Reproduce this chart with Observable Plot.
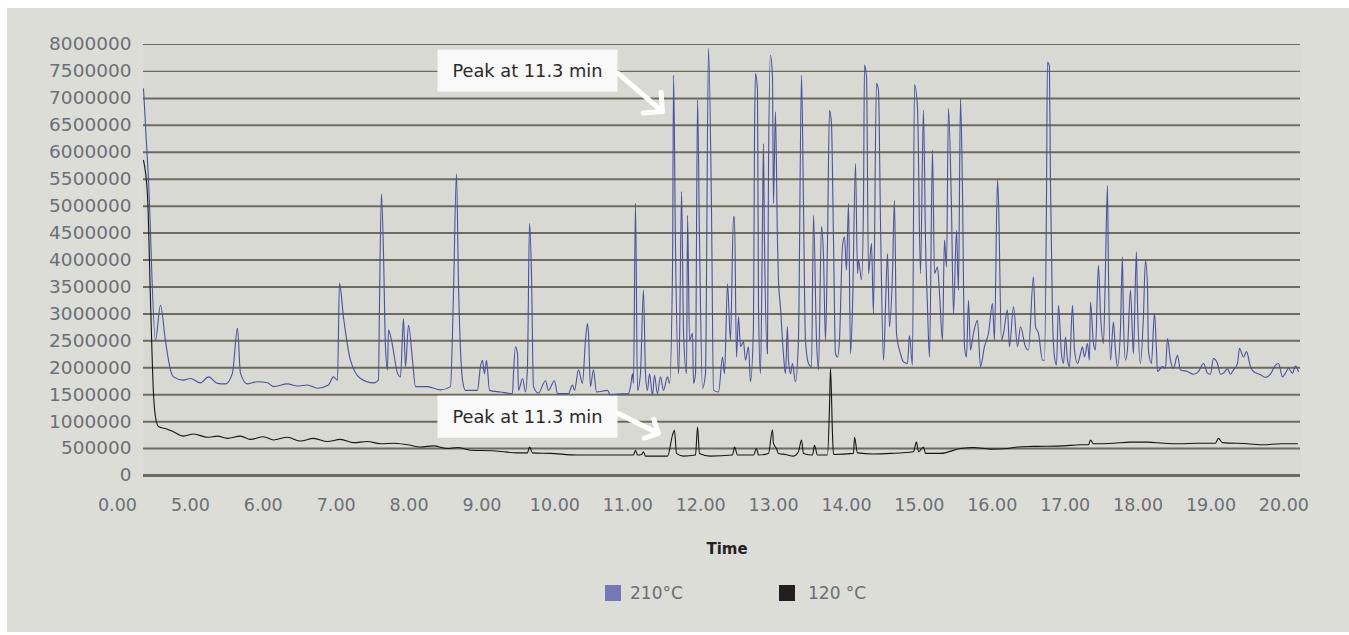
<!DOCTYPE html>
<html><head><meta charset="utf-8">
<script src="https://cdn.jsdelivr.net/npm/d3@7"></script>
<script src="https://cdn.jsdelivr.net/npm/@observablehq/plot@0.6"></script>
<style>
html,body{margin:0;padding:0;background:#fff;width:1349px;height:635px;overflow:hidden;font-family:"DejaVu Sans",sans-serif;}
#panel{position:absolute;left:7px;top:8px;width:1342px;height:624px;background:#dcddd6;}
#chart{position:absolute;left:0;top:0;}
#xlabel{position:absolute;top:539px;left:627px;width:200px;line-height:20px;text-align:center;font-weight:bold;font-size:15px;color:#222;}
.sw{position:absolute;width:16px;height:16px;top:585px;}
.lt{position:absolute;top:582px;line-height:22px;font-size:17px;color:#6c6d72;}
</style></head>
<body>
<div id="panel"></div>
<div id="chart"></div>
<div id="xlabel">Time</div>
<div id="legend"></div>
<script>
// x tick positions (time scale of the chart) and their printed labels
const xTicks = [4,5,6,7,8,9,10,11,12,13,14,15,16,17,18,19,20];
const xTickLabels = ["0.00","5.00","6.00","7.00","8.00","9.00","10.00","11.00","12.00","13.00","14.00","15.00","16.00","17.00","18.00","19.00","20.00"];
// y ticks in millions and their printed labels
const yTicks = [0,0.5,1,1.5,2,2.5,3,3.5,4,4.5,5,5.5,6,6.5,7,7.5,8];
const yTickLabels = ["0","500000","1000000","1500000","2000000","2500000","3000000","3500000","4000000","4500000","5000000","5500000","6000000","6500000","7000000","7500000","8000000"];

const seriesNames = ["210°C","120 °C"];
const seriesColors = ["#7478b8","#231f20"];

// [time, abundance in millions]
const trace210 = [[4.357,7.18],[4.425,5.50],[4.521,2.51],[4.590,3.16],[4.658,2.50],[4.727,1.96],[4.768,1.83],[4.905,1.77],[5.001,1.80],[5.139,1.72],[5.248,1.83],[5.372,1.71],[5.481,1.70],[5.577,1.90],[5.646,2.73],[5.687,1.90],[5.783,1.70],[5.920,1.74],[6.058,1.72],[6.140,1.65],[6.332,1.70],[6.469,1.66],[6.606,1.68],[6.743,1.62],[6.894,1.68],[6.963,1.83],[7.018,1.77],[7.045,3.57],[7.100,2.94],[7.196,2.14],[7.333,1.80],[7.512,1.72],[7.580,1.77],[7.594,3.19],[7.621,5.23],[7.649,4.12],[7.676,2.39],[7.704,1.96],[7.717,2.70],[7.759,2.51],[7.841,1.90],[7.882,1.83],[7.923,2.91],[7.951,2.02],[7.992,2.79],[8.047,2.14],[8.088,1.65],[8.252,1.65],[8.431,1.59],[8.568,1.65],[8.609,3.38],[8.650,5.60],[8.678,3.56],[8.733,1.77],[8.774,1.58],[8.938,1.58],[8.979,2.02],[9.007,2.14],[9.034,1.89],[9.062,2.14],[9.103,1.58],[9.254,1.55],[9.418,1.52],[9.432,1.89],[9.460,2.39],[9.487,2.27],[9.501,1.58],[9.556,1.80],[9.597,1.55],[9.624,2.02],[9.652,4.68],[9.679,3.75],[9.706,1.65],[9.775,1.53],[9.871,1.76],[9.912,1.58],[9.994,1.76],[10.036,1.52],[10.186,1.52],[10.241,1.68],[10.269,1.58],[10.324,1.96],[10.378,1.71],[10.420,2.51],[10.447,2.82],[10.461,2.64],[10.488,1.65],[10.529,1.96],[10.571,1.55],[10.722,1.58],[10.763,1.49],[10.859,1.51],[11.010,1.52],[11.037,1.65],[11.065,1.89],[11.078,1.71],[11.106,5.05],[11.133,1.58],[11.174,1.89],[11.215,3.44],[11.243,1.89],[11.270,1.58],[11.298,1.89],[11.339,1.49],[11.366,1.86],[11.407,1.52],[11.449,1.83],[11.490,1.58],[11.545,1.83],[11.573,1.71],[11.614,3.87],[11.628,7.43],[11.655,4.18],[11.696,1.89],[11.710,2.51],[11.738,5.27],[11.765,2.64],[11.806,1.89],[11.820,4.83],[11.847,2.51],[11.888,2.64],[11.902,1.71],[11.929,1.89],[11.957,6.97],[11.984,4.37],[12.025,1.62],[12.066,1.89],[12.107,7.93],[12.148,4.99],[12.176,1.58],[12.245,1.55],[12.300,2.20],[12.327,1.89],[12.368,3.56],[12.409,2.51],[12.450,4.80],[12.464,4.80],[12.491,2.20],[12.519,2.95],[12.546,2.39],[12.587,2.48],[12.615,2.14],[12.656,2.39],[12.683,1.74],[12.724,2.76],[12.738,6.22],[12.752,7.46],[12.779,7.15],[12.793,3.13],[12.820,1.89],[12.848,4.68],[12.861,6.16],[12.875,4.37],[12.916,2.26],[12.930,5.61],[12.957,7.80],[12.985,7.40],[12.998,5.05],[13.026,6.75],[13.053,4.37],[13.067,3.63],[13.094,3.13],[13.135,2.26],[13.163,1.89],[13.190,2.76],[13.204,2.14],[13.232,1.89],[13.259,2.08],[13.300,1.74],[13.341,2.51],[13.383,7.43],[13.410,5.05],[13.437,2.51],[13.479,2.08],[13.520,2.02],[13.548,4.83],[13.589,2.51],[13.616,1.96],[13.657,4.62],[13.685,4.06],[13.712,2.51],[13.740,4.37],[13.767,6.78],[13.794,6.53],[13.822,4.37],[13.849,2.26],[13.877,2.20],[13.904,2.51],[13.945,4.25],[13.973,4.43],[14.000,3.81],[14.028,5.05],[14.055,2.26],[14.083,3.13],[14.124,5.79],[14.151,3.75],[14.165,4.00],[14.206,3.63],[14.233,4.99],[14.247,7.62],[14.275,7.40],[14.302,3.75],[14.343,4.31],[14.370,3.01],[14.411,7.28],[14.439,7.15],[14.467,4.68],[14.508,2.14],[14.535,3.13],[14.563,4.12],[14.590,2.76],[14.631,3.75],[14.658,5.11],[14.686,2.64],[14.741,2.26],[14.782,2.11],[14.837,2.08],[14.864,2.60],[14.905,2.05],[14.933,7.25],[14.974,6.84],[15.015,3.75],[15.056,6.78],[15.084,4.37],[15.111,3.13],[15.139,2.20],[15.180,6.04],[15.207,3.75],[15.248,3.87],[15.276,3.38],[15.317,2.51],[15.344,4.37],[15.372,3.87],[15.399,6.81],[15.440,4.99],[15.468,3.01],[15.509,4.55],[15.536,3.44],[15.564,7.00],[15.591,5.30],[15.619,2.39],[15.646,2.20],[15.674,3.25],[15.701,2.33],[15.742,2.64],[15.797,2.88],[15.838,2.02],[15.893,2.39],[15.948,2.64],[16.003,3.19],[16.030,2.51],[16.071,5.48],[16.085,5.11],[16.126,2.51],[16.154,2.64],[16.208,3.07],[16.236,2.39],[16.291,3.13],[16.346,2.39],[16.387,2.76],[16.455,2.39],[16.496,2.33],[16.565,3.69],[16.593,2.76],[16.634,2.64],[16.689,2.14],[16.716,2.14],[16.743,5.00],[16.757,7.67],[16.784,7.60],[16.798,5.50],[16.826,2.94],[16.853,2.20],[16.881,2.05],[16.908,3.16],[16.949,2.26],[16.977,2.08],[17.004,2.57],[17.032,2.14],[17.059,2.02],[17.100,3.16],[17.128,2.33],[17.169,2.08],[17.210,2.26],[17.237,2.39],[17.265,2.20],[17.306,2.45],[17.333,2.14],[17.347,3.22],[17.388,2.45],[17.415,2.33],[17.456,3.90],[17.484,3.01],[17.525,2.45],[17.552,3.81],[17.580,5.38],[17.593,3.87],[17.621,2.14],[17.662,2.85],[17.689,2.33],[17.717,2.02],[17.758,2.70],[17.785,4.06],[17.799,2.94],[17.826,2.14],[17.854,2.33],[17.895,3.44],[17.922,2.64],[17.936,2.26],[17.977,4.15],[17.991,3.25],[18.032,2.08],[18.073,2.94],[18.101,3.99],[18.128,3.56],[18.142,2.33],[18.183,2.08],[18.225,3.01],[18.252,2.33],[18.266,1.93],[18.334,2.02],[18.376,1.99],[18.403,2.54],[18.444,2.14],[18.485,1.99],[18.540,2.23],[18.581,1.96],[18.677,1.93],[18.759,1.88],[18.828,1.93],[18.897,2.08],[18.952,1.90],[18.993,1.88],[19.034,2.17],[19.089,2.08],[19.130,1.88],[19.171,1.90],[19.226,1.98],[19.267,1.88],[19.309,1.96],[19.364,2.08],[19.391,2.36],[19.446,2.20],[19.487,2.30],[19.542,2.02],[19.583,1.93],[19.679,1.87],[19.748,1.82],[19.816,1.88],[19.885,2.05],[19.926,2.08],[19.981,1.83],[20.022,1.90],[20.063,1.99],[20.118,1.90],[20.159,2.03],[20.200,1.93]];

const trace120 = [[4.357,5.85],[4.412,5.20],[4.453,3.25],[4.494,1.52],[4.521,1.09],[4.562,0.91],[4.686,0.86],[4.768,0.81],[4.905,0.73],[5.043,0.77],[5.235,0.71],[5.372,0.73],[5.509,0.69],[5.687,0.73],[5.824,0.67],[6.003,0.72],[6.140,0.66],[6.332,0.71],[6.510,0.64],[6.689,0.69],[6.881,0.63],[7.059,0.67],[7.237,0.61],[7.429,0.63],[7.608,0.59],[7.786,0.60],[7.978,0.57],[8.156,0.53],[8.335,0.55],[8.527,0.50],[8.664,0.52],[8.842,0.47],[9.157,0.46],[9.487,0.42],[9.624,0.42],[9.652,0.53],[9.692,0.42],[9.940,0.41],[10.310,0.38],[10.625,0.38],[11.078,0.38],[11.106,0.47],[11.133,0.38],[11.188,0.39],[11.215,0.44],[11.243,0.36],[11.545,0.36],[11.614,0.75],[11.641,0.84],[11.668,0.41],[11.765,0.36],[11.929,0.38],[11.957,0.90],[11.984,0.41],[12.134,0.36],[12.436,0.38],[12.464,0.53],[12.505,0.38],[12.724,0.38],[12.765,0.50],[12.793,0.38],[12.930,0.41],[12.985,0.85],[12.998,0.60],[13.039,0.50],[13.067,0.41],[13.163,0.39],[13.273,0.36],[13.341,0.44],[13.383,0.66],[13.410,0.41],[13.534,0.38],[13.561,0.56],[13.602,0.38],[13.740,0.38],[13.767,1.27],[13.781,1.99],[13.808,0.78],[13.822,0.39],[14.096,0.41],[14.110,0.71],[14.151,0.42],[14.370,0.40],[14.604,0.41],[14.919,0.44],[14.960,0.62],[14.988,0.44],[15.056,0.53],[15.084,0.41],[15.289,0.41],[15.564,0.50],[15.742,0.52],[15.975,0.49],[16.208,0.50],[16.346,0.53],[16.565,0.54],[16.977,0.55],[17.210,0.57],[17.320,0.57],[17.347,0.66],[17.388,0.59],[17.662,0.60],[17.895,0.62],[18.128,0.62],[18.348,0.60],[18.581,0.59],[18.814,0.60],[19.061,0.60],[19.102,0.69],[19.157,0.61],[19.500,0.59],[19.719,0.57],[19.953,0.59],[20.186,0.59]];

// callouts: text centre (x,y), arrow from (x1,y1) to (x2,y2), in chart units
const callouts = [
  {label:"Peak at 11.3 min", x:9.624, y:7.50, x1:10.872, y1:7.46, x2:11.476, y2:6.756},
  {label:"Peak at 11.3 min", x:9.624, y:1.076, x1:10.872, y1:1.151, x2:11.421, y2:0.78}
];

const chart = Plot.plot({
  width: 1349, height: 520,
  marginLeft: 143, marginRight: 49, marginTop: 44, marginBottom: 45,
  style: {background: "transparent", fontFamily: "DejaVu Sans, sans-serif"},
  x: {domain: [4.357, 20.228]},
  y: {domain: [0, 8]},
  marks: [
    Plot.frame({fill: "#d8d9d2", stroke: null}),
    Plot.ruleY(yTicks, {y: d => d, stroke: "#6c6b5e", strokeWidth: d => d === 0 ? 3 : (d >= 7.5 ? 1.2 : 2)}),
    Plot.axisY({ticks: yTicks, tickSize: 0, tickPadding: 12, fontSize: 18.5, fill: "#6d6e78",
      tickFormat: d => yTickLabels[yTicks.indexOf(d)]}),
    Plot.axisX({ticks: [], label: null}),
    Plot.text(xTicks, {x: d => d, frameAnchor: "bottom", dy: 35, fontSize: 17.5, fill: "#6d6e78",
      text: (d, i) => xTickLabels[i]}),
    Plot.line(trace210, {x: d => d[0], y: d => d[1], stroke: "#4c51a1", strokeWidth: 1.1, curve: "monotone-x"}),
    Plot.line(trace120, {x: d => d[0], y: d => d[1], stroke: "#151515", strokeWidth: 1.1, curve: "monotone-x"}),
    Plot.text(callouts, {x: "x", y: "y", text: "label", fontSize: 17.8, fill: "#2a2a2a"}),
    Plot.arrow(callouts, {x1: "x1", y1: "y1", x2: "x2", y2: "y2", stroke: "#ffffff", strokeWidth: 5,
      headLength: 18, headAngle: 90})
  ]
});
document.getElementById("chart").appendChild(chart);

// white boxes behind the callout texts
const ns = "http://www.w3.org/2000/svg";
const calloutLabels = new Set(callouts.map(c => c.label));
Array.from(chart.querySelectorAll("text"))
  .filter(t => calloutLabels.has(t.textContent))
  .forEach(t => {
    const bb = t.getBBox();
    const cx = bb.x + bb.width / 2, cy = bb.y + bb.height / 2;
    const r = document.createElementNS(ns, "rect");
    r.setAttribute("x", cx - 90); r.setAttribute("y", cy - 21);
    r.setAttribute("width", 180); r.setAttribute("height", 42);
    r.setAttribute("fill", "#f8f9f8");
    if (t.getAttribute("transform")) r.setAttribute("transform", t.getAttribute("transform"));
    t.parentNode.insertBefore(r, t);
  });

// legend
const legend = document.getElementById("legend");
const swLeft = [605, 779], txtLeft = [630, 808];
seriesNames.forEach((name, i) => {
  const s = document.createElement("div");
  s.className = "sw"; s.style.left = swLeft[i] + "px"; s.style.background = seriesColors[i];
  const t = document.createElement("div");
  t.className = "lt"; t.style.left = txtLeft[i] + "px"; t.textContent = name;
  legend.appendChild(s); legend.appendChild(t);
});
</script>
</body></html>
